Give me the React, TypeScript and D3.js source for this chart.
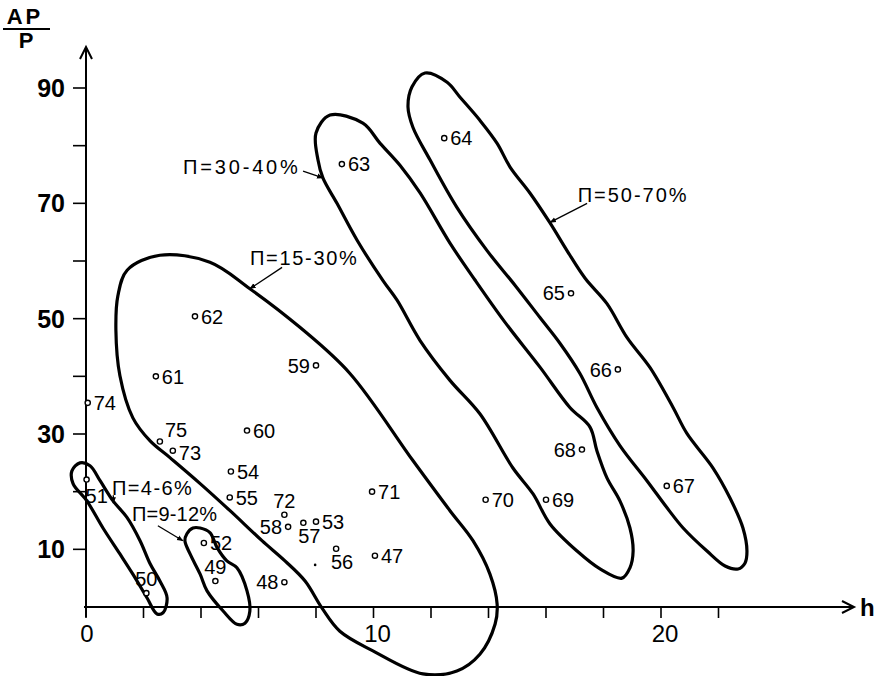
import React from "react";
import { scaleLinear, line, curveCatmullRomClosed, range } from "d3";

const W = 874;
const H = 676;
const FONT = "'Liberation Sans', Arial, sans-serif";

// measured points: id, h, ΔP/P, where the number sits
const pointIds = ["47", "48", "49", "50", "51", "52", "53", "54", "55", "56", "57", "58", "59", "60", "61", "62", "63", "64", "65", "66", "67", "68", "69", "70", "71", "72", "73", "74", "75"];
const pointH = [10.05, 6.9, 4.5, 2.1, 0.02, 4.1, 8.0, 5.04, 5.0, 8.7, 7.56, 7.03, 8.0, 5.6, 2.43, 3.79, 8.9, 12.46, 16.87, 18.5, 20.2, 17.25, 16.0, 13.9, 9.95, 6.9, 3.02, 0.06, 2.57];
const pointDP = [8.9, 4.3, 4.5, 2.4, 22.1, 11.1, 14.8, 23.5, 19.0, 10.1, 14.6, 13.9, 41.9, 30.6, 40.0, 50.4, 76.8, 81.3, 54.4, 41.2, 21.0, 27.3, 18.6, 18.6, 20.0, 16.0, 27.1, 35.4, 28.7];
const labelSide = ["r", "l", "a", "a", "br", "r", "r", "r", "r", "b", "b", "l", "l", "r", "r", "r", "r", "r", "l", "l", "r", "l", "r", "r", "r", "a", "rl", "r", "ar"];

// unlabelled dot near 56
const strayDot: [number, number] = [7.97, 7.3];

// hand-drawn regions, traced in data units [h, ΔP/P]
const region4to6: [number, number][] = [
  [-0.21, 25.0], [0.14, 24.5], [0.49, 21.9], [0.94, 18.4], [1.43, 15.5], [1.88, 11.5], [2.23, 7.5], [2.57, 4.5],
  [2.82, 1.6], [2.68, -1.0], [2.47, -1.2], [2.12, 1.6], [1.63, 5.7], [1.18, 9.2], [0.59, 13.7], [0.03, 18.4],
  [-0.45, 21.4], [-0.49, 23.6],
];
const region9to12: [number, number][] = [
  [3.72, 13.7], [3.97, 13.7], [4.31, 12.9], [4.56, 10.3], [4.9, 8.0], [5.25, 6.8], [5.6, 2.8], [5.7, -0.7],
  [5.53, -2.8], [5.25, -3.0], [4.77, -0.7], [4.21, 2.8], [3.97, 5.7], [3.62, 9.2], [3.44, 11.5], [3.51, 12.7],
];
const region15to30: [number, number][] = [
  [2.57, 61.0], [4.31, 59.8], [5.7, 55.2], [7.44, 48.5], [9.18, 40.5], [11.37, 25.4], [12.66, 16.7], [13.46, 11.5],
  [14.05, 5.7], [14.3, 0.5], [14.23, -2.95], [13.7, -8.2], [12.9, -11.1], [11.72, -11.6], [9.98, -7.6], [8.83, -4.2],
  [8.21, -0.2], [7.62, 4.5], [6.92, 8.0], [6.12, 11.5], [5.01, 16.7], [3.97, 21.4], [2.92, 25.9], [2.23, 28.8],
  [1.63, 32.8], [1.18, 40.1], [1.04, 48.0], [1.11, 54.0], [1.43, 58.4],
];
const region30to40: [number, number][] = [
  [8.49, 85.3], [9.63, 83.9], [10.23, 80.4], [10.92, 76.6], [11.62, 71.8], [12.66, 63.1], [13.53, 56.7], [14.57, 49.4],
  [15.79, 41.6], [16.83, 34.6], [17.53, 31.2], [17.77, 27.1], [18.12, 22.4], [18.57, 18.4], [18.92, 13.7], [19.03, 9.7],
  [18.92, 6.8], [18.64, 5.0], [17.88, 6.6], [17.08, 9.7], [16.14, 14.4], [15.55, 19.6], [14.85, 24.1], [13.7, 33.5],
  [12.66, 39.3], [11.62, 46.2], [10.82, 53.2], [10.33, 56.6], [9.43, 63.6], [8.73, 70.0], [8.24, 74.4], [8.07, 77.5],
  [8.0, 82.2],
];
const region50to70: [number, number][] = [
  [11.79, 92.6], [12.56, 91.0], [13.01, 88.4], [13.7, 84.4], [14.3, 80.4], [14.75, 76.3], [15.44, 71.8], [16.14, 66.6],
  [16.73, 61.8], [17.36, 57.0], [18.12, 52.6], [18.82, 46.7], [19.62, 41.5], [20.42, 34.6], [20.9, 30.1], [21.81, 24.1],
  [22.4, 18.9], [22.85, 13.7], [22.99, 9.7], [22.92, 7.6], [22.68, 6.6], [22.23, 7.1], [21.6, 9.7], [20.77, 13.7],
  [20.21, 17.2], [19.51, 21.9], [18.57, 28.0], [17.77, 34.6], [17.18, 40.5], [16.49, 45.7], [15.79, 50.2], [14.92, 55.8],
  [13.95, 61.8], [12.9, 69.3], [11.97, 77.5], [11.37, 83.2], [11.2, 86.7], [11.34, 90.2],
];
const regions = [region4to6, region9to12, region15to30, region30to40, region50to70];

// region captions: text, where the text starts, where the pointer hits the outline
const regionText = ["Π=4-6%", "Π=9-12%", "Π=15-30%", "Π=30-40%", "Π=50-70%"];
const regionTextAt: [number, number][] = [[0.9, 20.7], [1.6, 16.2], [5.7, 60.6], [3.37, 76.3], [17.1, 71.4]];
const regionPointerFrom: [number, number][] = [[0.95, 19.4], [2.5, 14.1], [6.82, 58.9], [7.55, 75.6], [17.43, 70.0]];
const regionPointerTo: [number, number][] = [[0.95, 18.0], [3.37, 11.5], [5.7, 55.2], [8.24, 74.4], [16.14, 66.7]];
const regionTextWidth = [80, 85, 107, 115, 109];

const xMinorTicks = range(0, 23, 2);
const xTickLabels = [0, 10, 20];
const yMinorTicks = range(10, 91, 10);
const yTickLabels = [10, 30, 50, 70, 90];

export default function App() {
  const x = scaleLinear().domain([0, 10]).range([86, 373.5]);
  const y = scaleLinear().domain([0, 90]).range([607, 88]);
  const outline = line<[number, number]>()
    .x((d) => x(d[0]))
    .y((d) => y(d[1]))
    .curve(curveCatmullRomClosed.alpha(0.5));

  const x0 = x(0);
  const y0 = y(0);
  const xEnd = 854;
  const yTop = 47;

  return (
    <div style={{ position: "absolute", left: 0, top: 0 }}>
      <svg width={W} height={H} viewBox={`0 0 ${W} ${H}`} style={{ display: "block", background: "#fff" }} fontFamily={FONT}>
        <defs>
          <marker id="tip" viewBox="0 0 10 10" refX="9" refY="5" markerWidth="5" markerHeight="5" orient="auto">
            <path d="M0,1 L10,5 L0,9 Z" fill="#000" />
          </marker>
        </defs>

        {/* axes */}
        <line x1={x0} x2={x0} y1={y0 + 10} y2={yTop} stroke="#000" strokeWidth={2} />
        <path d={`M${x0 - 6},${yTop + 12} L${x0},${yTop} L${x0 + 6},${yTop + 12}`} fill="none" stroke="#000" strokeWidth={2} />
        <line x1={x0 - 2} x2={xEnd} y1={y0} y2={y0} stroke="#000" strokeWidth={2} />
        <path d={`M${xEnd - 12},${y0 - 6} L${xEnd},${y0} L${xEnd - 12},${y0 + 6}`} fill="none" stroke="#000" strokeWidth={2} />

        {yMinorTicks.map((t) => (
          <line key={`yt${t}`} x1={x0 - 13} x2={x0} y1={y(t)} y2={y(t)} stroke="#000" strokeWidth={1.6} />
        ))}
        {yTickLabels.map((t) => (
          <text key={`yl${t}`} x={65} y={y(t)} dy="0.36em" textAnchor="end" fontSize={25} fontWeight="bold">
            {t}
          </text>
        ))}
        {xMinorTicks.map((t) => (
          <line key={`xt${t}`} x1={x(t)} x2={x(t)} y1={y0} y2={y0 + 11} stroke="#000" strokeWidth={1.6} />
        ))}
        {xTickLabels.map((t) => (
          <text key={`xl${t}`} x={x(t) + (t === 0 ? 1 : 4)} y={y0 + 26} dy="0.36em" textAnchor="middle" fontSize={24}>
            {t}
          </text>
        ))}
        <text x={860} y={y0} dy="0.36em" fontSize={24} fontWeight="bold">h</text>

        {/* ΔP/P caption */}
        <text x={25} y={24} textAnchor="middle" fontSize={22} fontWeight="bold" letterSpacing={3}>AP</text>
        <line x1={3} x2={50} y1={29} y2={29} stroke="#000" strokeWidth={2} />
        <text x={26} y={48} textAnchor="middle" fontSize={22} fontWeight="bold">P</text>

        {/* regions */}
        {regions.map((r, i) => (
          <path key={`rg${i}`} d={outline(r) ?? ""} fill="none" stroke="#000" strokeWidth={3.2} strokeLinejoin="round" />
        ))}
        {regionText.map((t, i) => (
          <g key={`rt${i}`}>
            <text
              x={x(regionTextAt[i][0])}
              y={y(regionTextAt[i][1])}
              dy="0.36em"
              fontSize={20}
              textLength={regionTextWidth[i]}
              lengthAdjust="spacing"
            >
              {t}
            </text>
            <line
              x1={x(regionPointerFrom[i][0])}
              y1={y(regionPointerFrom[i][1])}
              x2={x(regionPointerTo[i][0])}
              y2={y(regionPointerTo[i][1])}
              stroke="#000"
              strokeWidth={1.3}
              markerEnd="url(#tip)"
            />
          </g>
        ))}

        {/* points */}
        <circle cx={x(strayDot[0])} cy={y(strayDot[1])} r={1.3} fill="#000" />
        {pointIds.map((id, i) => {
          const cx = x(pointH[i]);
          const cy = y(pointDP[i]);
          const side = labelSide[i];
          let lx = cx + 6;
          let ly = cy;
          let anchor: "start" | "end" | "middle" = "start";
          if (side === "l") {
            lx = cx - 6;
            anchor = "end";
          } else if (side === "a") {
            lx = cx;
            ly = cy - 14;
            anchor = "middle";
          } else if (side === "b") {
            lx = cx + 6;
            ly = cy + 13;
            anchor = "middle";
          } else if (side === "br") {
            lx = cx - 1;
            ly = cy + 16;
          } else if (side === "ar") {
            lx = cx + 5;
            ly = cy - 12;
          } else if (side === "rl") {
            ly = cy + 2;
          }
          return (
            <g key={`p${id}`}>
              <circle cx={cx} cy={cy} r={2.6} fill="#fff" stroke="#000" strokeWidth={1.4} />
              <text x={lx} y={ly} dy="0.36em" textAnchor={anchor} fontSize={20}>
                {id}
              </text>
            </g>
          );
        })}
      </svg>
    </div>
  );
}
